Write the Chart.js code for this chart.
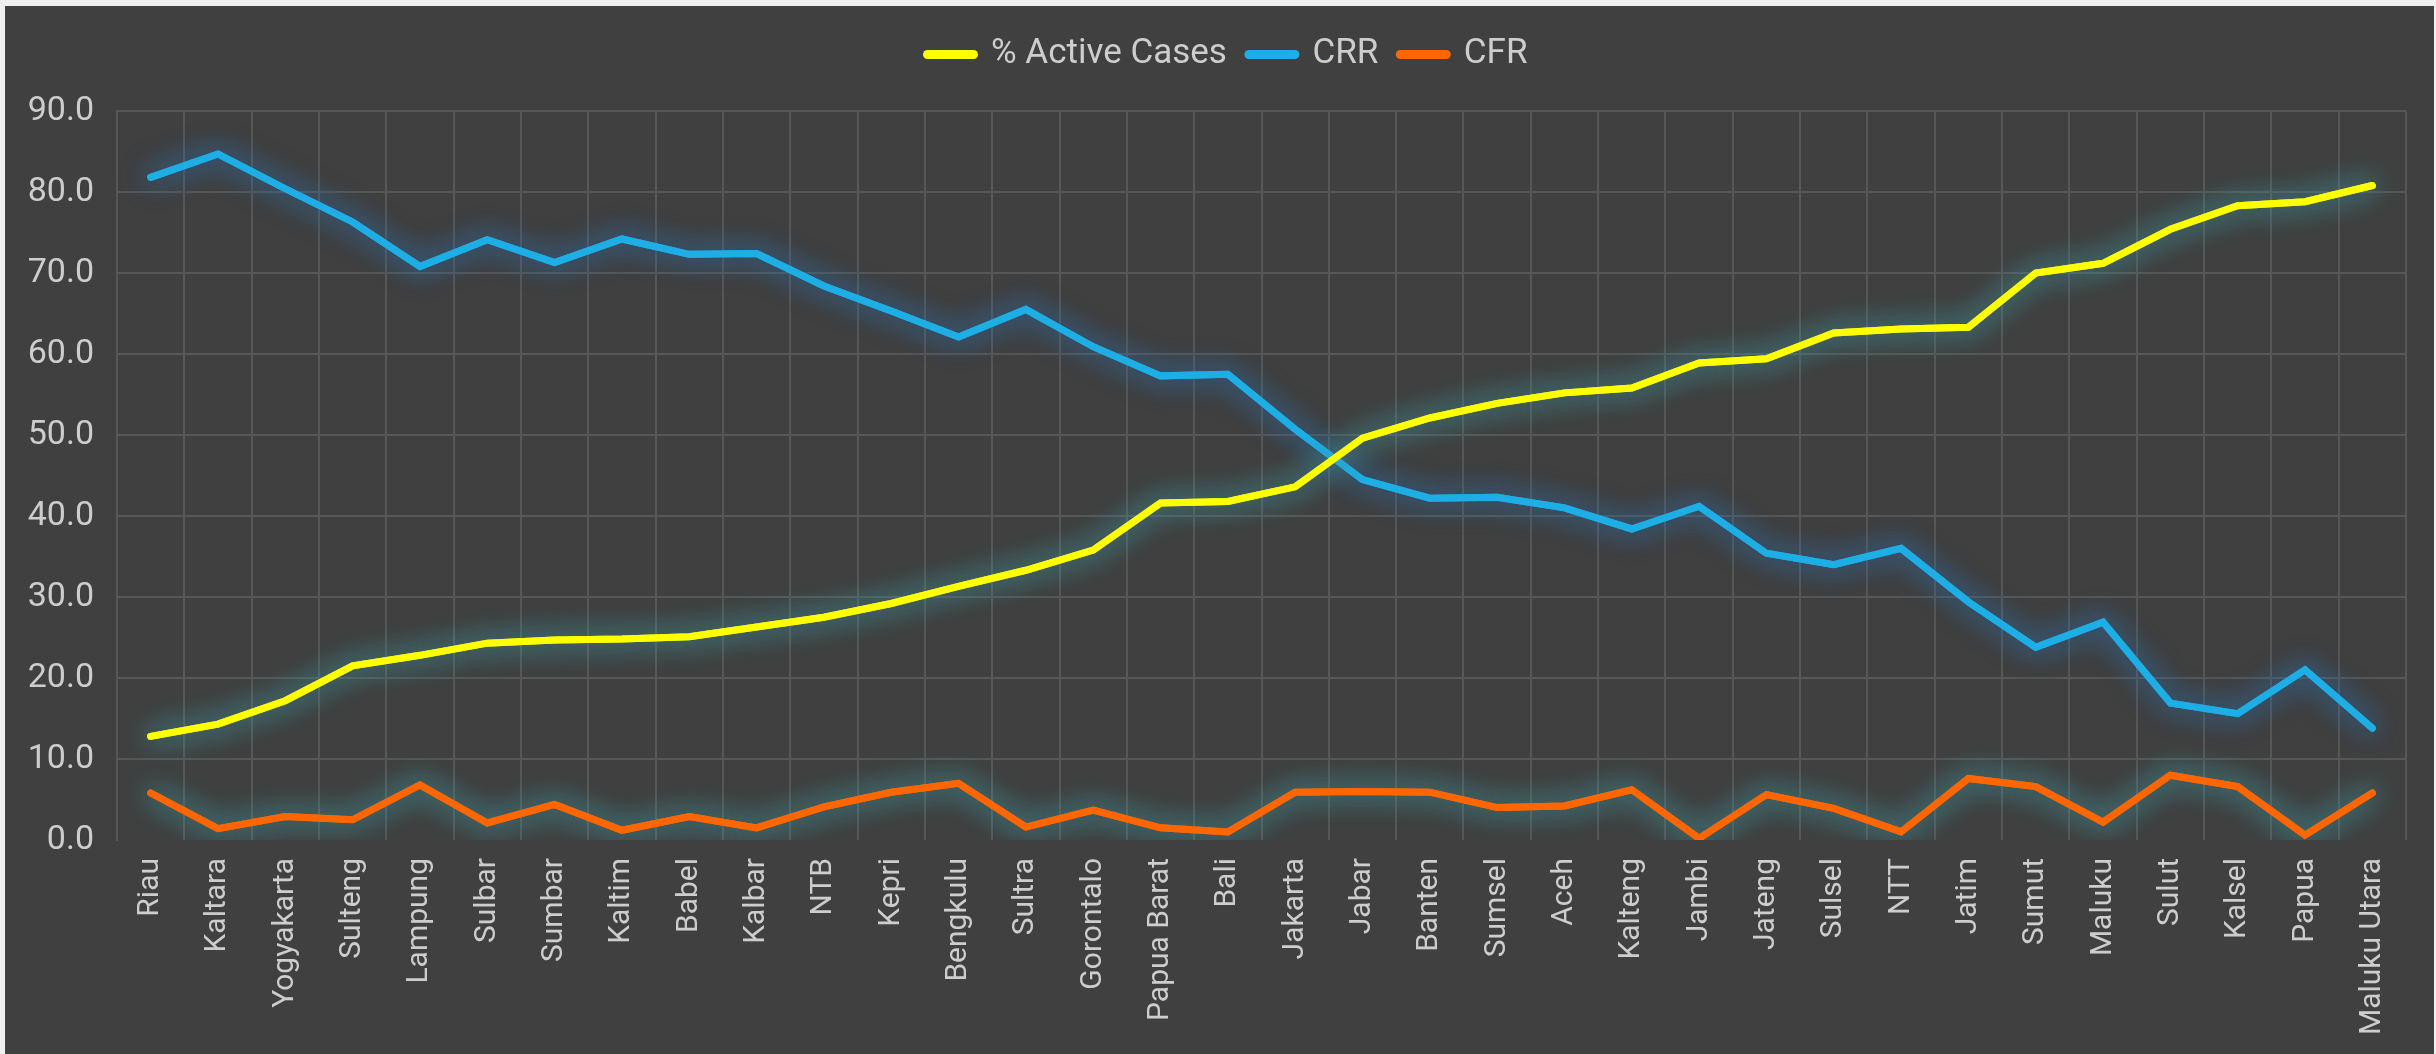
<!DOCTYPE html>
<html>
<head>
<meta charset="utf-8">
<script src="https://cdn.jsdelivr.net/npm/chart.js@4/dist/chart.umd.min.js"></script>
<style>
    html, body { margin: 0; padding: 0; background: #f0f0f0; }
    #wrap {
        position: absolute;
        left: 5px;
        top: 6px;
        width: 2429px;
        height: 1048px;
        background: #404040;
    }
</style>
</head>
<body>
<div id="wrap"><canvas id="lineChart"></canvas></div>
<script>
const provinces = [
    'Riau', 'Kaltara', 'Yogyakarta', 'Sulteng', 'Lampung', 'Sulbar', 'Sumbar', 'Kaltim',
    'Babel', 'Kalbar', 'NTB', 'Kepri', 'Bengkulu', 'Sultra', 'Gorontalo', 'Papua Barat',
    'Bali', 'Jakarta', 'Jabar', 'Banten', 'Sumsel', 'Aceh', 'Kalteng', 'Jambi',
    'Jateng', 'Sulsel', 'NTT', 'Jatim', 'Sumut', 'Maluku', 'Sulut', 'Kalsel',
    'Papua', 'Maluku Utara'
];

const activeCases = [
    12.8, 14.3, 17.2, 21.5, 22.8, 24.3, 24.7, 24.8, 25.1, 26.3, 27.5, 29.2,
    31.3, 33.3, 35.8, 41.6, 41.8, 43.6, 49.6, 52.1, 53.9, 55.2, 55.8, 58.9,
    59.4, 62.6, 63.1, 63.3, 70.0, 71.2, 75.4, 78.3, 78.8, 80.8
];

const crr = [
    81.8, 84.7, 80.4, 76.3, 70.8, 74.1, 71.3, 74.2, 72.3, 72.4, 68.4, 65.3,
    62.1, 65.5, 60.9, 57.3, 57.5, 50.7, 44.5, 42.2, 42.3, 41.0, 38.4, 41.2,
    35.4, 34.0, 36.0, 29.4, 23.8, 26.9, 16.9, 15.6, 21.0, 13.8
];

const cfr = [
    5.8, 1.4, 2.9, 2.5, 6.8, 2.1, 4.4, 1.2, 2.9, 1.5, 4.1, 5.9,
    7.0, 1.6, 3.7, 1.5, 1.0, 5.9, 6.0, 5.9, 4.0, 4.2, 6.2, 0.2,
    5.6, 3.9, 1.0, 7.6, 6.6, 2.2, 8.0, 6.6, 0.6, 5.8
];

const yMin = 0;
const yMax = 90;
const yStep = 10;

const textColor = '#cdcdcd';
const gridColor = '#575757';

// soft halo around each line, like the spreadsheet "glow" effect
const glowPlugin = {
    id: 'glow',
    beforeDatasetDraw(chart, args) {
        const ds = chart.data.datasets[args.index];
        const ctx = chart.ctx;
        ctx.save();
        ctx.shadowColor = ds.glowColor;
        ctx.shadowBlur = 28;
    },
    afterDatasetDraw(chart, args) {
        const ctx = chart.ctx;
        const area = chart.chartArea;
        // second pass makes the halo denser
        ctx.save();
        ctx.beginPath();
        ctx.rect(area.left, area.top - 4, area.right - area.left, area.bottom - area.top + 4);
        ctx.clip();
        args.meta.controller.draw();
        ctx.restore();
        ctx.restore();
    }
};

// push the plot down below the legend without moving the legend text,
// and nudge the legend a little to the right
const legendSpacer = {
    id: 'legendSpacer',
    beforeInit(chart) {
        const originalFit = chart.legend.fit;
        chart.legend.fit = function fit() {
            originalFit.bind(chart.legend)();
            this.height += 29;
        };
    },
    afterLayout(chart) {
        chart.legend.left += 22;
        chart.legend.right += 22;
    }
};

function makeDataset(label, data, color, glow) {
    return {
        label,
        data,
        borderColor: color,
        backgroundColor: color,
        borderWidth: 7,
        borderCapStyle: 'round',
        borderJoinStyle: 'miter',
        pointRadius: 0,
        pointHoverRadius: 0,
        tension: 0,
        fill: false,
        glowColor: glow
    };
}

function buildLineChart(ctx) {
    return new Chart(ctx, {
        type: 'line',
        data: {
            labels: provinces,
            datasets: [
                makeDataset('% Active Cases', activeCases, '#ffff00', 'rgba(62,150,160,0.85)'),
                makeDataset('CRR', crr, '#1eaee6', 'rgba(45,110,170,0.85)'),
                makeDataset('CFR', cfr, '#ff6600', 'rgba(62,150,160,0.85)')
            ]
        },
        options: {
            responsive: true,
            maintainAspectRatio: false,
            animation: false,
            layout: {
                padding: { top: 9, right: 28, left: 0, bottom: 0 }
            },
            plugins: {
                legend: {
                    position: 'top',
                    labels: {
                        color: textColor,
                        font: { family: 'Roboto', size: 35 },
                        usePointStyle: true,
                        pointStyleWidth: 46,
                        padding: 22,
                        generateLabels(chart) {
                            return chart.data.datasets.map((ds, i) => ({
                                text: ds.label,
                                fillStyle: ds.borderColor,
                                strokeStyle: ds.borderColor,
                                fontColor: textColor,
                                lineWidth: 9,
                                lineCap: 'round',
                                pointStyle: 'line',
                                hidden: false,
                                datasetIndex: i
                            }));
                        }
                    }
                },
                tooltip: { enabled: false }
            },
            scales: {
                x: {
                    offset: true,
                    grid: {
                        offset: true,
                        color: gridColor,
                        lineWidth: 2,
                        drawTicks: false
                    },
                    border: { display: false },
                    ticks: {
                        color: textColor,
                        font: { family: 'Roboto', size: 30 },
                        autoSkip: false,
                        minRotation: 90,
                        maxRotation: 90,
                        padding: 18
                    },
                    afterFit(scale) {
                        scale.height = 214;
                    }
                },
                y: {
                    min: yMin,
                    max: yMax,
                    grid: {
                        color: c => (c.tick && c.tick.value === 0 ? 'rgba(0,0,0,0)' : gridColor),
                        lineWidth: 2,
                        drawTicks: false
                    },
                    border: { color: gridColor, width: 2 },
                    ticks: {
                        stepSize: yStep,
                        color: textColor,
                        font: { family: 'Roboto', size: 34 },
                        padding: 23,
                        callback: v => Number(v).toFixed(1)
                    },
                    afterFit(scale) {
                        scale.width = 112;
                    }
                }
            }
        },
        plugins: [legendSpacer, glowPlugin]
    });
}

document.addEventListener('DOMContentLoaded', () => {
    const ctx = document.getElementById('lineChart').getContext('2d');
    buildLineChart(ctx);
});
</script>
</body>
</html>
